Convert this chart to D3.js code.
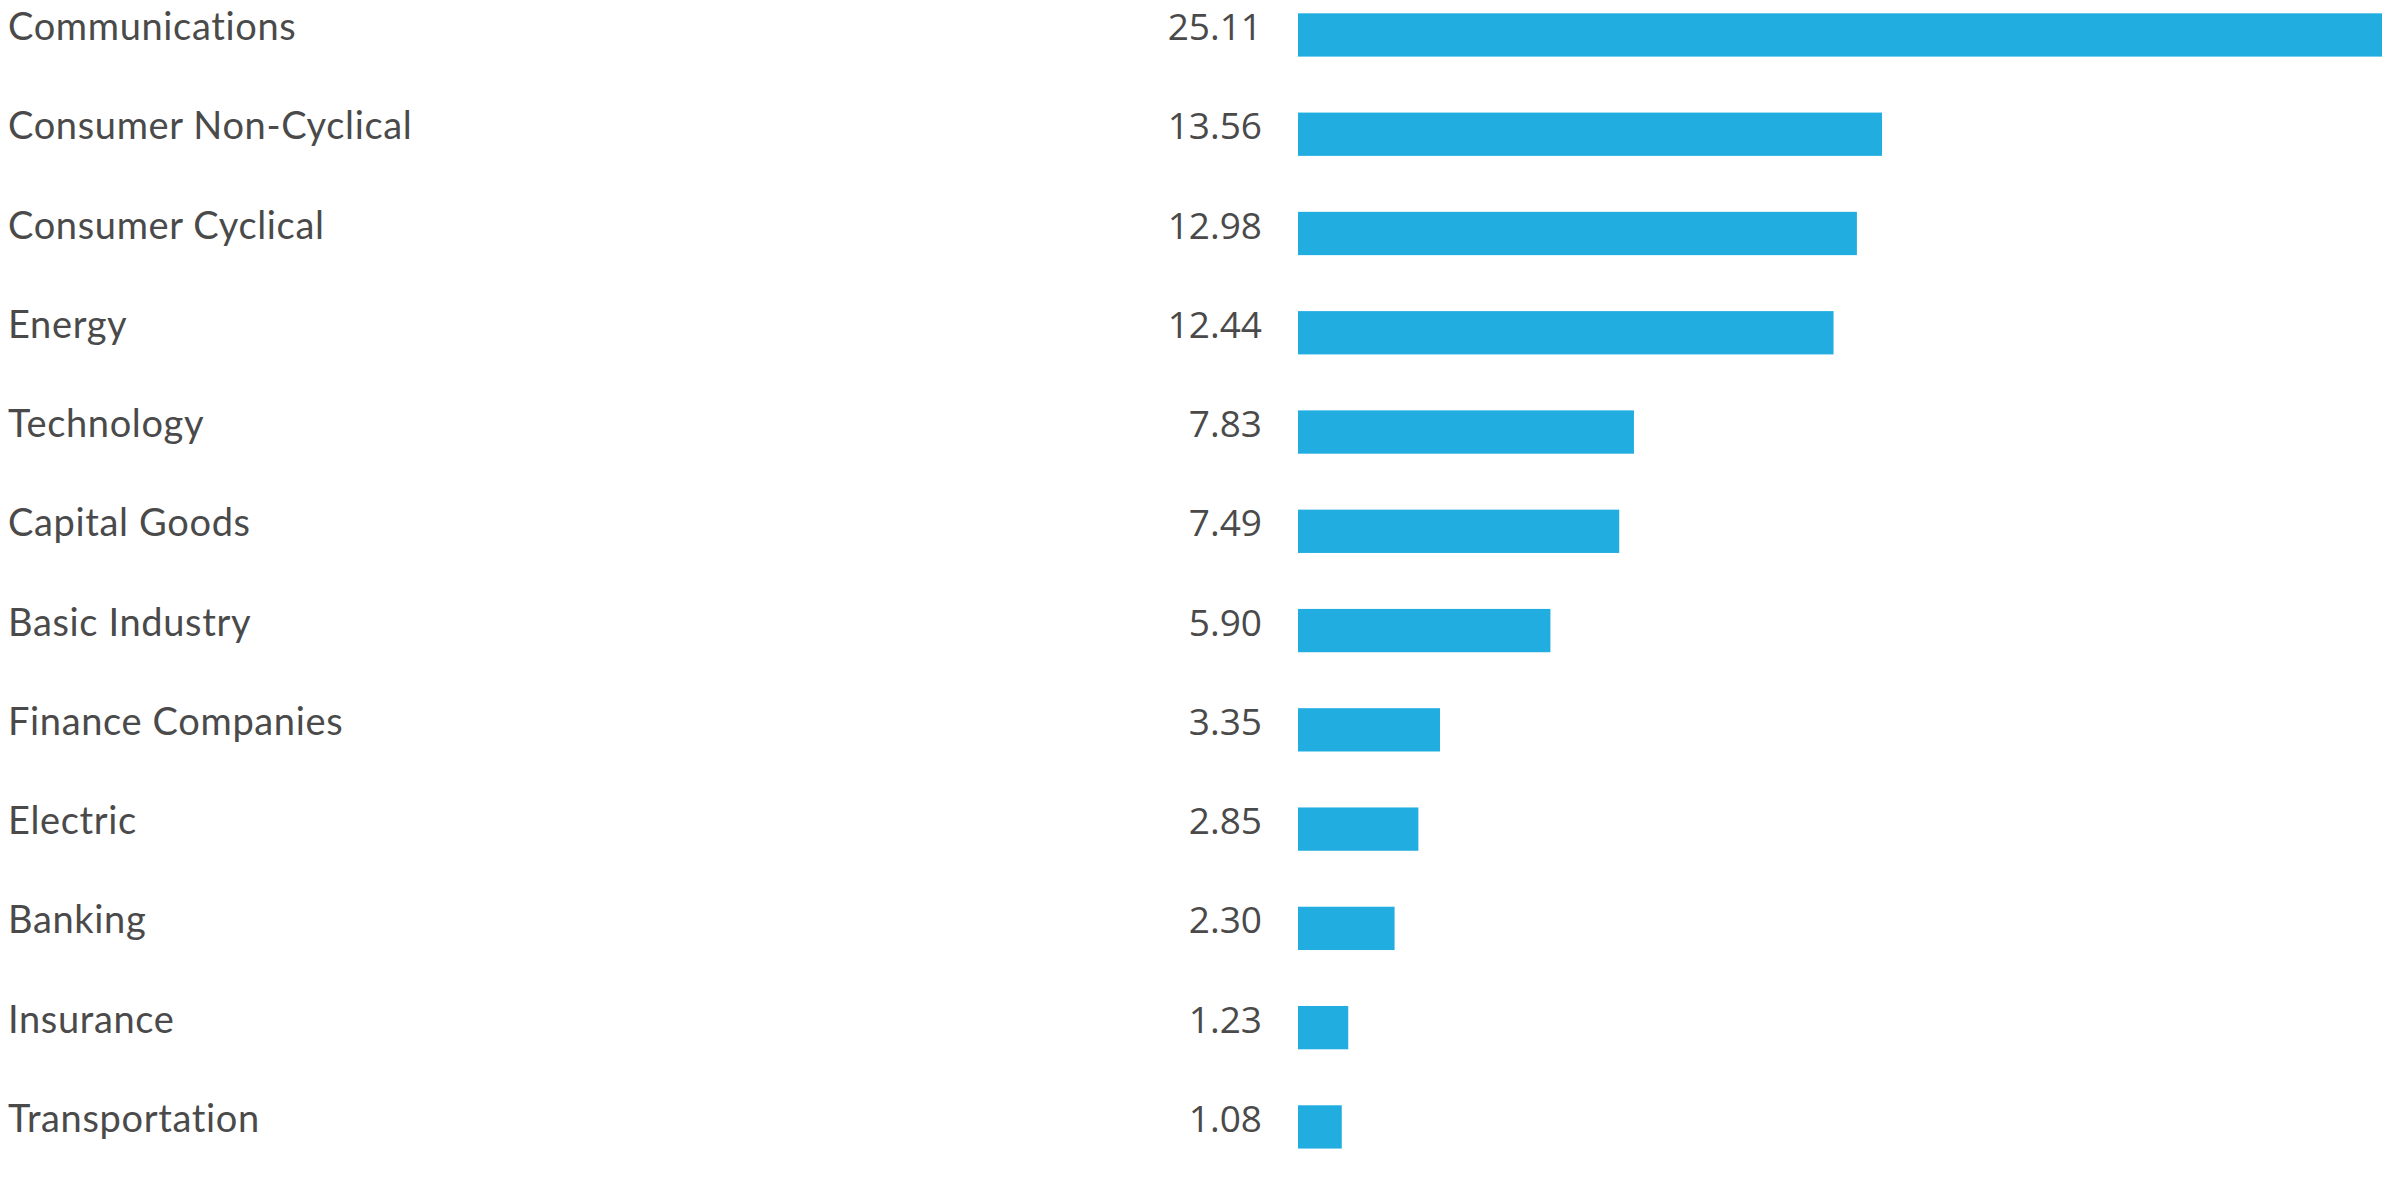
<!DOCTYPE html>
<html>
<head>
<meta charset="utf-8">
<script src="https://cdn.jsdelivr.net/npm/d3@7"></script>
<style>
  html, body { margin: 0; padding: 0; background: #fff; }
  svg { display: block; }
</style>
</head>
<body>
<svg id="chart" width="2391" height="1187"></svg>
<script>
const categories = ["Communications", "Consumer Non-Cyclical", "Consumer Cyclical", "Energy", "Technology", "Capital Goods", "Basic Industry", "Finance Companies", "Electric", "Banking", "Insurance", "Transportation"];
const values = [25.11, 13.56, 12.98, 12.44, 7.83, 7.49, 5.90, 3.35, 2.85, 2.30, 1.23, 1.08];
const valueLabels = ["25.11", "13.56", "12.98", "12.44", "7.83", "7.49", "5.90", "3.35", "2.85", "2.30", "1.23", "1.08"];

const svg = d3.select("#chart");
const barStart = 1298;
const x = d3.scaleLinear().domain([0, d3.max(values)]).range([1295, 2382]);
const y = d3.scaleBand().domain(categories).range([13.3, 13.3 + 11 * 99.27 + 43.3])
  .paddingInner(1 - 43.3 / 99.27).paddingOuter(0).align(0);

const rows = svg.selectAll("g.row").data(categories).enter().append("g").attr("class", "row");

rows.append("rect")
  .attr("x", barStart)
  .attr("y", d => y(d))
  .attr("width", (d, i) => x(values[i]) - barStart)
  .attr("height", y.bandwidth())
  .attr("fill", "#22ade1");

rows.append("text")
  .attr("x", 8)
  .attr("y", d => y(d) + 26.7)
  .attr("font-family", "Lato, 'Noto Sans', sans-serif")
  .attr("font-size", 38)
  .attr("letter-spacing", "0.65px")
  .attr("fill", "#4a4a4a")
  .text(d => d);

rows.append("text")
  .attr("x", 1262)
  .attr("y", d => y(d) + 26.7)
  .attr("text-anchor", "end")
  .attr("font-family", "'Open Sans', 'Noto Sans', sans-serif")
  .attr("font-size", 37)
  .attr("fill", "#4a4a4a")
  .text((d, i) => valueLabels[i]);
</script>
</body>
</html>
